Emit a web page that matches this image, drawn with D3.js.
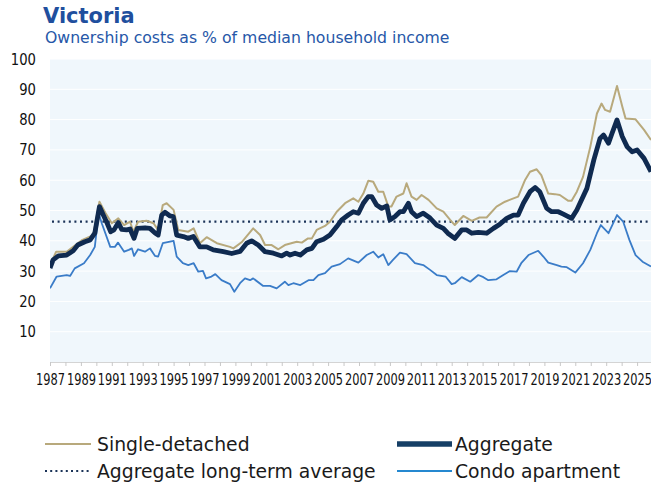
<!DOCTYPE html>
<html>
<head>
<meta charset="utf-8">
<script src="https://cdn.jsdelivr.net/npm/d3@7"></script>
<style>
  html, body { margin: 0; padding: 0; background: #ffffff; }
  svg { display: block; }
</style>
</head>
<body>
<div id="chart"></div>
<script>
// values, [year, % of median household income]
const singleDetached = [
  [1987.0,32],[1987.4,36.4],[1988.08,36.4],[1988.5,38],[1989.1,40.3],[1989.8,41.9],[1990.2,52.9],[1990.6,49.1],
  [1991.0,45.8],[1991.42,47.4],[1991.8,45.2],[1992.18,46.3],[1992.4,43],[1992.7,46.3],[1993.25,46.6],[1993.7,45.8],
  [1994.0,43.6],[1994.3,51.8],[1994.55,52.4],[1995.0,50.2],[1995.3,43.6],[1995.95,43],[1996.3,44.1],[1996.7,39.2],
  [1997.14,41.2],[1997.8,39.2],[1998.65,38],[1998.87,37.5],[1999.4,39.5],[2000.15,44.1],[2000.6,41.9],[2000.92,38.6],
  [2001.35,38.6],[2001.78,37.2],[2002.2,38.6],[2002.97,39.7],[2003.3,39.4],[2003.7,40.8],[2003.95,40.8],[2004.26,43.6],
  [2004.8,44.9],[2005.12,46.3],[2005.56,49.6],[2006.1,52.4],[2006.63,54],[2006.96,52.9],[2007.28,55.6],[2007.6,59.8],
  [2007.92,59.5],[2008.25,56.2],[2008.57,56.2],[2008.9,51.3],[2009.1,51.3],[2009.43,54.6],[2009.87,55.6],[2010.08,59],
  [2010.4,54.6],[2010.73,53.5],[2011.05,55.1],[2011.5,53.5],[2012.03,50.7],[2012.46,49.6],[2012.9,46.9],[2013.2,45.2],
  [2013.75,48.2],[2014.3,46.6],[2014.8,47.7],[2015.26,47.7],[2015.9,51.3],[2016.45,52.9],[2017.0,54],[2017.3,54.6],
  [2017.75,60.1],[2018.07,62.8],[2018.5,63.6],[2018.8,61.7],[2019.25,55.6],[2019.68,55.4],[2020.0,55.1],[2020.55,53.2],
  [2020.76,53.2],[2021.1,56.2],[2021.5,61.1],[2021.97,71],[2022.4,82],[2022.7,85.3],[2022.93,83.2],[2023.25,82.6],
  [2023.7,91.1],[2024.04,84.3],[2024.25,80.4],[2024.9,80.1],[2025.45,76.6],[2025.9,73.3]
];

const aggregate = [
  [1987.0,31],[1987.2,33.7],[1987.54,35],[1988.08,35.3],[1988.5,36.7],[1988.8,38.6],[1989.26,39.7],[1989.6,40.3],
  [1989.9,42.5],[1990.2,51.3],[1990.45,48.5],[1990.7,45.8],[1990.93,43],[1991.14,43.6],[1991.42,46],[1991.64,43.8],
  [1991.96,43.6],[1992.18,43.9],[1992.44,40.8],[1992.65,44.1],[1993.15,44.3],[1993.47,44.1],[1993.8,42.6],[1994.0,41.9],
  [1994.23,48.5],[1994.44,49.4],[1994.77,48.2],[1994.98,48],[1995.2,41.9],[1995.63,41.4],[1995.95,40.8],[1996.28,41.4],
  [1996.7,38],[1997.14,38],[1997.57,37],[1998.22,36.4],[1998.76,35.8],[1999.3,36.5],[1999.73,39.2],[2000.05,40],
  [2000.48,38.6],[2000.92,36.4],[2001.46,35.9],[2002.0,35],[2002.32,35.9],[2002.54,35.3],[2002.86,35.9],[2003.2,35.3],
  [2003.62,37],[2003.95,37.5],[2004.26,39.7],[2004.7,40.5],[2005.12,41.9],[2005.56,44.7],[2005.88,46.9],[2006.3,48.5],
  [2006.63,49.6],[2006.96,49.1],[2007.28,52.4],[2007.6,54.6],[2007.82,54.6],[2008.14,51.8],[2008.47,50.7],[2008.8,51.5],
  [2009.0,46.9],[2009.33,48],[2009.65,49.6],[2009.87,49.6],[2010.2,52.4],[2010.4,49.6],[2010.73,48],[2011.16,49.1],
  [2011.6,47.5],[2012.03,45.2],[2012.46,44.1],[2012.75,42.5],[2013.2,40.8],[2013.65,43.6],[2013.97,43.6],[2014.3,42.5],
  [2014.72,42.8],[2015.26,42.5],[2015.7,44.1],[2016.12,45.5],[2016.56,47.4],[2017.0,48.5],[2017.3,48.5],[2017.64,52.4],
  [2018.07,56.2],[2018.4,57.6],[2018.7,56.2],[2019.15,50.7],[2019.47,49.6],[2019.9,49.6],[2020.23,48.8],[2020.76,47.4],
  [2021.1,50.2],[2021.75,57.3],[2022.2,66.7],[2022.6,73.8],[2022.83,74.9],[2023.15,72.2],[2023.38,75.5],[2023.7,79.9],
  [2024.04,74.4],[2024.36,71],[2024.68,69.4],[2025.0,70],[2025.45,67.2],[2025.9,62.8]
];

const condo = [
  [1987.0,24.3],[1987.43,28.2],[1988.08,28.7],[1988.3,28.4],[1988.6,30.9],[1989.2,32.6],[1989.6,35.3],[1989.9,38],
  [1990.15,49.1],[1990.35,45.8],[1990.9,38],[1991.2,38],[1991.4,39.4],[1991.8,36.4],[1992.1,37],[1992.3,37.5],
  [1992.44,35],[1992.7,37.2],[1993.15,36.4],[1993.47,37.5],[1993.8,35],[1994.0,34.8],[1994.3,39.2],[1995.0,40],
  [1995.2,34.8],[1995.6,32.6],[1995.95,32],[1996.3,32.6],[1996.6,29.8],[1996.9,30.1],[1997.1,27.6],[1997.45,28.2],
  [1997.7,29],[1998.1,27],[1998.65,25.7],[1998.93,23.2],[1999.3,26],[1999.62,27.6],[1999.95,27],[2000.15,27.6],
  [2000.8,25.1],[2001.24,25.1],[2001.67,24.3],[2002.2,26.5],[2002.43,25.4],[2002.75,26],[2003.2,25.4],[2003.73,27],
  [2004.05,27],[2004.37,28.7],[2004.8,29.3],[2005.23,31.5],[2005.77,32.3],[2006.3,34.2],[2006.96,32.8],[2007.5,35.3],
  [2007.92,36.4],[2008.25,34.5],[2008.57,35.6],[2008.9,32],[2009.2,33.7],[2009.65,36.1],[2010.08,35.6],[2010.62,32.6],
  [2011.16,32],[2011.6,30.4],[2012.03,28.7],[2012.6,28.2],[2013.0,25.7],[2013.2,26],[2013.65,28],[2014.2,26.5],
  [2014.72,28.7],[2015.05,28],[2015.37,27],[2015.9,27.3],[2016.34,28.7],[2016.77,30],[2017.2,29.8],[2017.5,32.6],
  [2017.97,35.3],[2018.6,36.7],[2018.93,34.8],[2019.25,32.8],[2019.8,32],[2020.1,31.5],[2020.45,31.3],[2021.0,29.5],
  [2021.5,32.6],[2021.97,37],[2022.4,42.5],[2022.65,45.2],[2023.15,42.5],[2023.7,48.5],[2024.1,46.3],[2024.5,40.3],
  [2024.9,35.3],[2025.35,33.1],[2025.9,31.5]
];

const longTermAverage = 46.3;
const yTicks = [10, 20, 30, 40, 50, 60, 70, 80, 90, 100];
const xLabelYears = d3.range(1987, 2026, 2);
const xTickYears = d3.range(1987, 2026, 1);

const legendItems = [
  {label: "Single-detached", key: "single", col: 0, row: 0},
  {label: "Aggregate", key: "aggregate", col: 1, row: 0},
  {label: "Aggregate long-term average", key: "average", col: 0, row: 1},
  {label: "Condo apartment", key: "condo", col: 1, row: 1}
];

const width = 651, height = 484;
const plot = {l: 50, r: 651, t: 59, b: 362};
const colors = {single: "#b8a97c", aggregate: "#0f2a50", average: "#1b3358", condo: "#3a7cc8"};
const font = "'DejaVu Sans', sans-serif";

let svg = d3.select("#chart").append("svg")
            .attr("width", width)
            .attr("height", height);

let xScale = d3.scaleLinear().domain([1987, 2025.9]).range([plot.l, plot.r]);
let yScale = d3.scaleLinear().domain([0, 100]).range([plot.b, plot.t]);

// title
svg.append("text")
   .attr("x", 43).attr("y", 23)
   .attr("font-family", font)
   .attr("font-weight", "bold")
   .attr("font-size", "21px")
   .attr("fill", "#1f4f9e")
   .text("Victoria");

svg.append("text")
   .attr("x", 45).attr("y", 43)
   .attr("font-family", font)
   .attr("font-size", "15.7px")
   .attr("fill", "#2657a8")
   .text("Ownership costs as % of median household income");

// plot background + white gridlines
svg.append("rect")
   .attr("x", plot.l).attr("y", plot.t)
   .attr("width", plot.r - plot.l).attr("height", plot.b - plot.t)
   .attr("fill", "#f0f7fc");

svg.append("g")
   .selectAll("line")
   .data(yTicks)
   .join("line")
   .attr("x1", plot.l).attr("x2", plot.r)
   .attr("y1", d => yScale(d)).attr("y2", d => yScale(d))
   .attr("stroke", "#ffffff")
   .attr("stroke-width", 1);

// y labels (narrowed like the original's condensed face)
svg.append("g")
   .selectAll("text")
   .data(yTicks)
   .join("text")
   .attr("transform", d => `translate(36, ${yScale(d) + 5.5}) scale(0.85, 1)`)
   .attr("text-anchor", "end")
   .attr("font-family", font)
   .attr("font-size", "15.5px")
   .attr("fill", "#111")
   .text(d => d);

// x axis
let xAxis = d3.axisBottom(xScale)
              .tickValues(xTickYears)
              .tickSize(4)
              .tickFormat(d => xLabelYears.includes(d) ? d : "");

let gx = svg.append("g")
            .attr("transform", `translate(0, ${plot.b})`)
            .call(xAxis);
gx.select(".domain").attr("stroke", "#d4d4d4");
gx.selectAll(".tick line").attr("stroke", "#c8c8c8");
gx.selectAll(".tick text")
  .attr("y", null)
  .attr("dy", null)
  .attr("transform", "translate(0, 23) scale(0.76, 1)")
  .attr("font-family", font)
  .attr("font-size", "15px")
  .attr("fill", "#111");

// series
svg.append("clipPath").attr("id", "clip")
   .append("rect")
   .attr("x", plot.l).attr("y", plot.t - 10)
   .attr("width", plot.r - plot.l).attr("height", plot.b - plot.t + 10);

let line = d3.line()
             .x(d => xScale(d[0]))
             .y(d => yScale(d[1]));

let series_g = svg.append("g").attr("clip-path", "url(#clip)");

series_g.append("line")
        .attr("x1", plot.l + 2).attr("x2", plot.r)
        .attr("y1", yScale(longTermAverage)).attr("y2", yScale(longTermAverage))
        .attr("stroke", colors.average)
        .attr("stroke-width", 2.2)
        .attr("stroke-dasharray", "2,3.6");

series_g.append("path")
        .datum(condo)
        .attr("d", line)
        .attr("fill", "none")
        .attr("stroke", colors.condo)
        .attr("stroke-width", 1.8)
        .attr("stroke-linejoin", "round");

series_g.append("path")
        .datum(singleDetached)
        .attr("d", line)
        .attr("fill", "none")
        .attr("stroke", colors.single)
        .attr("stroke-width", 2)
        .attr("stroke-linejoin", "round");

series_g.append("path")
        .datum(aggregate)
        .attr("d", line)
        .attr("fill", "none")
        .attr("stroke", colors.aggregate)
        .attr("stroke-width", 4.8)
        .attr("stroke-linejoin", "round");

// legend
let legend = svg.append("g");
let colX = [45, 397], textX = [97, 455], rowY = [444, 471];

let items = legend.selectAll("g")
                  .data(legendItems)
                  .join("g")
                  .attr("transform", d => `translate(0, ${rowY[d.row]})`);

items.append("line")
     .attr("x1", d => colX[d.col])
     .attr("x2", d => d.col === 0 ? 91 : 452)
     .attr("y1", 0).attr("y2", 0)
     .attr("stroke", d => d.key === "aggregate" ? "#163f66" : d.key === "condo" ? "#2588d0" : colors[d.key])
     .attr("stroke-width", d => d.key === "aggregate" ? 5.5 : d.key === "average" ? 2 : 1.8)
     .attr("stroke-dasharray", d => d.key === "average" ? "2,3.2" : null);

items.append("text")
     .attr("x", d => textX[d.col])
     .attr("y", 7)
     .attr("font-family", font)
     .attr("font-size", "18.8px")
     .attr("fill", "#1a1a1a")
     .text(d => d.label);
</script>
</body>
</html>
